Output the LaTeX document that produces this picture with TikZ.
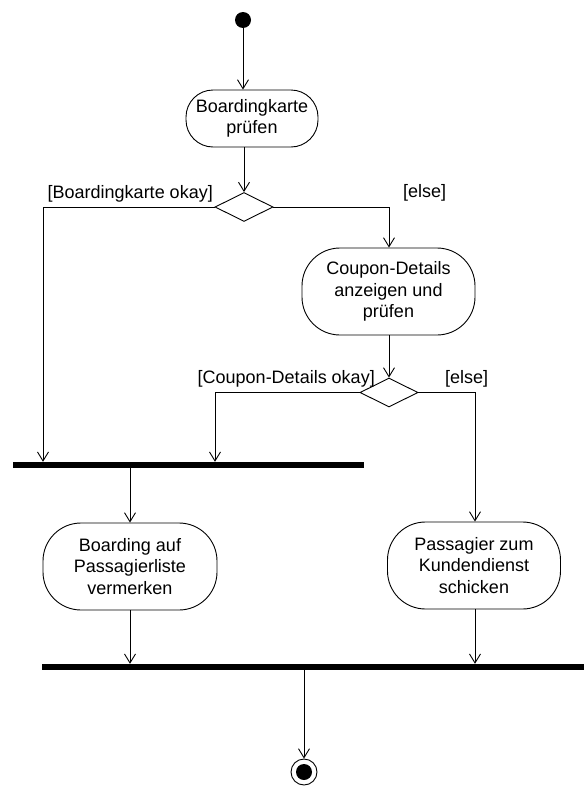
\documentclass[tikz,border=0pt]{standalone}
\usepackage{fontspec}
\setmainfont{Liberation Sans}
\usetikzlibrary{arrows.meta,shapes.geometric}
\begin{document}
\begin{tikzpicture}[x=1pt,y=-1pt,
  txt/.style={font=\fontsize{18}{21.5}\selectfont},
  act/.style={txt, draw, rounded corners=38pt, align=center, inner sep=0pt, line width=0.9pt},
  dec/.style={draw, diamond, minimum width=58pt, minimum height=29pt, inner sep=0pt, line width=0.9pt},
  bar/.style={fill=black, inner sep=0pt, minimum height=6pt},
  arr/.style={-{Straight Barb[length=9pt,width=11pt,line width=0.9pt]}, line width=0.9pt},
  lbl/.style={txt, inner sep=0pt}
]
\useasboundingbox (0,0) rectangle (584,787);

\node[circle, fill, inner sep=0pt, minimum size=16pt] (start) at (243,20) {};
\node[act, minimum width=132pt, minimum height=57pt, rounded corners=27pt] (n1) at (252,118.5) {Boardingkarte\\prüfen};
\node[dec] (d1) at (244,207) {};
\node[act, minimum width=173pt, minimum height=87pt] (n2) at (388.5,291.5) {Coupon-Details\\anzeigen und\\prüfen};
\node[dec] (d2) at (389,392.5) {};
\node[bar, minimum width=351pt] (bar1) at (188.5,465) {};
\node[act, minimum width=174pt, minimum height=87pt] (n3) at (130,566.5) {Boarding auf\\Passagierliste\\vermerken};
\node[act, minimum width=173pt, minimum height=87pt] (n4) at (474,565.5) {Passagier zum\\Kundendienst\\schicken};
\node[bar, minimum width=542pt] (bar2) at (313,667) {};
\node[circle, draw, line width=0.9pt, inner sep=0pt, minimum size=26pt] (end) at (304,772) {};
\node[circle, fill, inner sep=0pt, minimum size=16pt] (endin) at (end) {};

\node[lbl, anchor=base east] (l1) at (213,198) {[Boardingkarte okay]};
\node[lbl, anchor=base west] (l2) at (403,197) {[else]};
\node[lbl, anchor=base east] (l3) at (375,383) {[Coupon-Details okay]};
\node[lbl, anchor=base west] (l4) at (445,383) {[else]};

\coordinate (c1) at (43,207);
\coordinate (c2) at (389,207);
\coordinate (c3) at (215,392.5);
\coordinate (c4) at (475,392.5);

\draw[arr] (start) -- (start |- n1.north);
\draw[arr] (d1 |- n1.south) -- (d1.north);
\draw[arr] (d1.west) -- (c1) -- (c1 |- bar1.north);
\draw[arr] (d1.east) -- (c2) -- (c2 |- n2.north);
\draw[arr] (d2 |- n2.south) -- (d2.north);
\draw[arr] (d2.west) -- (c3) -- (c3 |- bar1.north);
\draw[arr] (d2.east) -- (c4) -- (c4 |- n4.north);
\draw[arr] (n3 |- bar1.south) -- (n3.north);
\draw[arr] (n3.south) -- (n3 |- bar2.north);
\draw[arr] (c4 |- n4.south) -- (c4 |- bar2.north);
\draw[arr] (end |- bar2.south) -- (end.north);
\end{tikzpicture}
\end{document}
